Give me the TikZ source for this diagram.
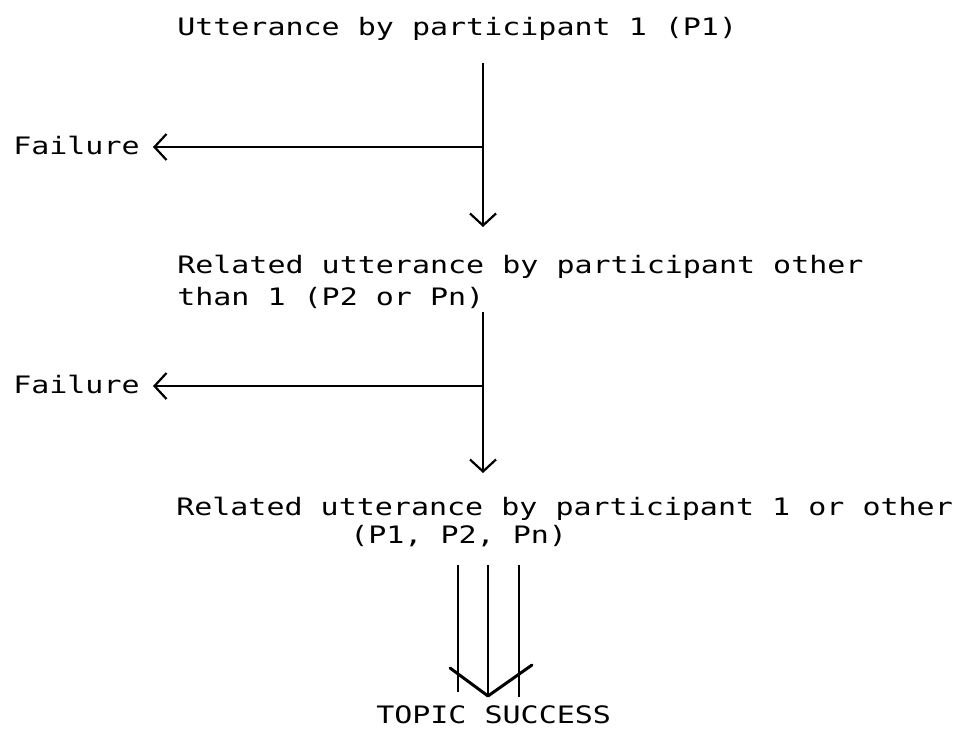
\documentclass[tikz,border=0pt]{standalone}
\usepackage{fontspec}
\setmonofont{DejaVu Sans Mono}
\usetikzlibrary{arrows.meta}
\tikzset{%
  txt/.style={font=\ttfamily\fontsize{24}{28}\selectfont, inner sep=0pt, anchor=base west, xscale=1.25},%
  flow/.style={line width=1.3pt, -{Straight Barb[length=12pt,width=26pt,line width=2.2pt]}},%
  plain/.style={line width=1.3pt},%
}
\begin{document}
\begin{tikzpicture}[x=1pt,y=-1pt]%
\useasboundingbox (0,0) rectangle (958,728);%
\def\xm{483};%
%
% first utterance
\node[txt] (utt1) at (177,35) {Utterance by participant 1 (P1)};%
\coordinate (a1s) at (\xm,63);%
\coordinate (a1e) at (\xm,227);%
\coordinate (a1f) at (\xm,147);%
\node[txt] (fail1) at (13,154) {Failure};%
\coordinate (f1tip) at (153,147);%
\draw[flow] (a1s) -- (a1e);%
\draw[flow] (a1f) -- (f1tip);%
%
% related utterance, other participant
\node[txt] (rel2a) at (177,273) {Related utterance by participant other};%
\node[txt] (rel2b) at (177,305) {than 1 (P2 or Pn)};%
\coordinate (a2s) at (\xm,312);%
\coordinate (a2e) at (\xm,473);%
\coordinate (a2f) at (\xm,386);%
\node[txt] (fail2) at (13,393) {Failure};%
\coordinate (f2tip) at (153,386);%
\draw[flow] (a2s) -- (a2e);%
\draw[flow] (a2f) -- (f2tip);%
%
% related utterance, any participant
\node[txt] (rel3a) at (176,515) {Related utterance by participant 1 or other};%
\node[txt] (rel3b) at (350,543) {(P1, P2, Pn)};%
%
% triple arrow
\coordinate (ls) at (458,565);%
\coordinate (le) at (458,692);%
\coordinate (ms) at (488,565);%
\coordinate (me) at (488,696);%
\coordinate (rs) at (519,565);%
\coordinate (re) at (519,697);%
\draw[plain] (ls) -- (le);%
\draw[plain] (ms) -- (me);%
\draw[plain] (rs) -- (re);%
\coordinate (vl) at (450,668);%
\coordinate (vr) at (532,665);%
\draw[line width=3pt, line join=round, line cap=round] (vl) -- (me) -- (vr);%
%
\node[txt] (success) at (376,723) {TOPIC SUCCESS};%
\end{tikzpicture}
\end{document}
